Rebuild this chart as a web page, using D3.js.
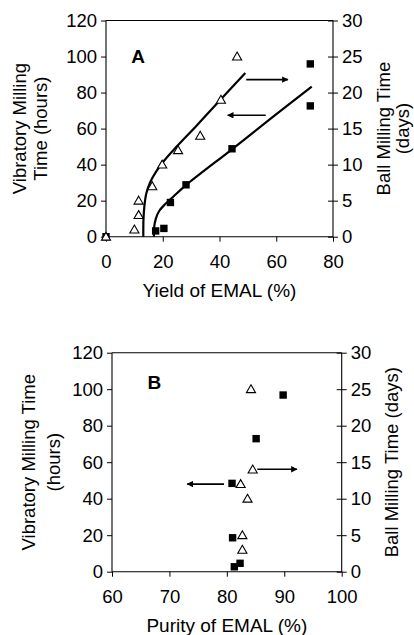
<!DOCTYPE html>
<html><head><meta charset="utf-8">
<script src="https://cdn.jsdelivr.net/npm/d3@7"></script>
<style>
html,body{margin:0;padding:0;background:#fff;}
svg text{font-family:"Liberation Sans",Arial,sans-serif;fill:#000;}
</style></head>
<body><svg id="c" width="414" height="635"></svg>
<script>
// ---------- Panel A data ----------
const aXTicks = [0, 20, 40, 60, 80];
const hoursTicks = [0, 20, 40, 60, 80, 100, 120];
const daysTicks = [0, 5, 10, 15, 20, 25, 30];
// Ball milling (days, right axis) – triangles
const aTriYield = [0, 10.0, 11.5, 11.5, 16.3, 19.8, 25.4, 33.2, 40.5, 46.2];
const aTriDays  = [0, 1, 3, 5, 7, 10, 12, 14, 19, 25];
// Vibratory milling (hours, left axis) – squares
const aSqYield = [0, 17.5, 20.4, 22.7, 28.2, 44.4, 72.0, 72.0];
const aSqHours = [0, 3.2, 4.6, 19, 28.8, 48.8, 72.6, 95.9];
// fitted curves
const fitBallYield = [13.15, 13.2, 13.5, 14.2, 15.5, 17.6, 20.6, 24.9, 31.9, 39.6, 49.1];
const fitBallDays  = [0, 2.3, 4.15, 6.0, 7.5, 9.0, 10.6, 12.5, 15.4, 18.7, 22.7];
const fitVibYield = [16.9, 17.0, 17.6, 18.8, 20.8, 23.7, 28.4, 44.4, 57.8, 72.5];
const fitVibHours = [0, 5.6, 10.2, 14.4, 18.0, 22.2, 28.9, 48.5, 65.2, 83.3];
// arrows [x1, x2, hours]
const aArrowRight = [49.4, 64.1, 87.2];
const aArrowLeft  = [56.3, 42.9, 67.4];

// ---------- Panel B data ----------
const bXTicks = [60, 70, 80, 90, 100];
const bTriPurity = [84.2, 84.5, 82.4, 83.6, 82.7, 82.7];
const bTriDays   = [25, 14, 12, 10, 5, 3];
const bSqPurity = [89.8, 85.1, 80.9, 81.0, 82.3, 81.3];
const bSqHours  = [96.8, 72.9, 48.4, 18.6, 4.6, 2.7];
const bArrowRight = [85.3, 92.2, 56.1];
const bArrowLeft  = [79.5, 73.1, 48.0];

const svg = d3.select("#c");
svg.append("defs").append("marker").attr("id","ah").attr("viewBox","0 0 10 10")
  .attr("refX",9).attr("refY",5).attr("markerWidth",5).attr("markerHeight",4)
  .attr("markerUnits","strokeWidth").attr("orient","auto")
  .append("path").attr("d","M0,0L10,5L0,10Z").attr("fill","#000");

function panel(cfg){
  const g = svg.append("g");
  const x = d3.scaleLinear().domain(cfg.xDomain).range([cfg.left, cfg.right]);
  const yH = d3.scaleLinear().domain([0,120]).range([cfg.bottom, cfg.top]);
  const yD = d3.scaleLinear().domain([0,30]).range([cfg.bottom, cfg.top]);

  g.append("line").attr("x1",cfg.left).attr("x2",cfg.right).attr("y1",cfg.top).attr("y2",cfg.top)
    .attr("stroke","#000").attr("stroke-width",1.1);
  const la = g.append("g").attr("transform",`translate(${cfg.left},0)`)
    .call(d3.axisLeft(yH).tickValues(hoursTicks).tickSize(5).tickPadding(4));
  const ra = g.append("g").attr("transform",`translate(${cfg.right},0)`)
    .call(d3.axisRight(yD).tickValues(daysTicks).tickSize(5).tickPadding(4));
  ra.selectAll(".tick line").attr("x1",-5);
  const ba = g.append("g").attr("transform",`translate(0,${cfg.bottom})`)
    .call(d3.axisBottom(x).tickValues(cfg.xTicks).tickSize(5).tickPadding(13));
  [la,ra,ba].forEach(a=>{
    a.select(".domain").attr("stroke","#000").attr("stroke-width",1.1);
    a.selectAll(".tick line").attr("stroke","#000");
    a.selectAll("text").style("font-size","18.5px").attr("fill","#000");
  });
  ba.select(".domain").attr("d",`M${cfg.left},0H${cfg.right}`);
  la.select(".domain").attr("d",`M0,${cfg.bottom}V${cfg.top}`);
  ra.select(".domain").attr("d",`M0,${cfg.bottom}V${cfg.top}`);

  const line = d3.line().curve(d3.curveCatmullRom.alpha(0.5));
  (cfg.curves||[]).forEach(c=>{
    const sc = c.days ? yD : yH;
    const pts = c.xs.map((v,i)=>[x(v), sc(c.ys[i])]);
    g.append("path").attr("d",line(pts)).attr("fill","none").attr("stroke","#000").attr("stroke-width",2.2);
  });
  cfg.arrows.forEach(a=>{
    g.append("line").attr("x1",x(a[0])).attr("x2",x(a[1])).attr("y1",yH(a[2])).attr("y2",yH(a[2]))
      .attr("stroke","#000").attr("stroke-width",1.6).attr("marker-end","url(#ah)");
  });
  const tri = d3.symbol().type(d3.symbolTriangle).size(36);
  g.selectAll(".sq").data(cfg.sqX.map((v,i)=>[v,cfg.sqY[i]])).join("rect")
    .attr("x",d=>x(d[0])-3.7).attr("y",d=>yH(d[1])-3.7).attr("width",7.4).attr("height",7.4).attr("fill","#000");
  g.selectAll(".tri").data(cfg.triX.map((v,i)=>[v,cfg.triY[i]])).join("path")
    .attr("d",tri).attr("transform",d=>`translate(${x(d[0])},${yD(d[1])+0.8})`)
    .attr("fill","#fff").attr("stroke","#000").attr("stroke-width",1.1);
  g.append("text").attr("x",cfg.letter[1]).attr("y",cfg.letter[2]).attr("text-anchor","middle")
    .style("font-size","19px").style("font-weight","bold").text(cfg.letter[0]);
  g.append("text").attr("x",(cfg.left+cfg.right)/2).attr("y",cfg.bottom+60).attr("text-anchor","middle")
    .style("font-size","19px").text(cfg.xTitle);
  const cy = (cfg.top+cfg.bottom)/2;
  cfg.yTitles.forEach(t=>{
    g.append("text").attr("transform",`translate(${t[1]},${cy}) rotate(-90)`).attr("text-anchor","middle")
      .style("font-size","18.5px").text(t[0]);
  });
}

panel({
  xDomain:[0,80], xTicks:aXTicks, left:106, right:333, top:20.5, bottom:236.7,
  curves:[{xs:fitBallYield, ys:fitBallDays, days:true},{xs:fitVibYield, ys:fitVibHours, days:false}],
  arrows:[aArrowRight, aArrowLeft],
  triX:aTriYield, triY:aTriDays, sqX:aSqYield, sqY:aSqHours,
  letter:["A",138,63], xTitle:"Yield of EMAL (%)",
  yTitles:[["Vibratory Milling",26],["Time (hours)",47],["Ball Milling Time",390],["(days)",409]]
});
panel({
  xDomain:[60,100], xTicks:bXTicks, left:112, right:341.7, top:352.7, bottom:571.7,
  curves:[],
  arrows:[bArrowRight, bArrowLeft],
  triX:bTriPurity, triY:bTriDays, sqX:bSqPurity, sqY:bSqHours,
  letter:["B",154.3,388.5], xTitle:"Purity of EMAL (%)",
  yTitles:[["Vibratory Milling Time",35],["(hours)",60],["Ball Milling Time (days)",398]]
});
</script>
</body></html>
